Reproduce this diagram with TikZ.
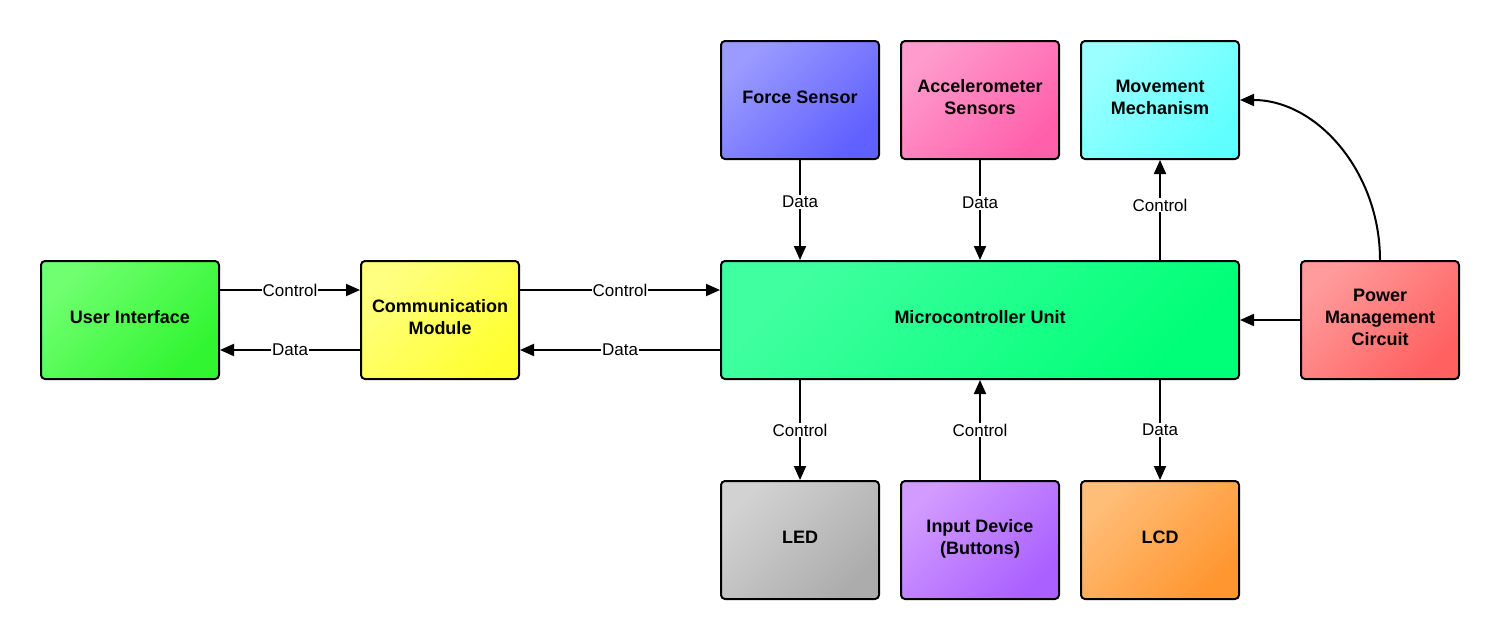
\documentclass[tikz,border=0pt]{standalone}
\usepackage{fontspec}
\setmainfont{Liberation Sans}
\usetikzlibrary{arrows.meta}
\definecolor{uiA}{RGB}{112,255,112}\definecolor{uiB}{RGB}{48,245,48}
\definecolor{cmA}{RGB}{255,255,128}\definecolor{cmB}{RGB}{255,255,48}
\definecolor{mcA}{RGB}{64,255,160}\definecolor{mcB}{RGB}{0,255,120}
\definecolor{pmA}{RGB}{255,155,155}\definecolor{pmB}{RGB}{255,96,96}
\definecolor{fsA}{RGB}{155,155,255}\definecolor{fsB}{RGB}{96,96,255}
\definecolor{acA}{RGB}{255,155,205}\definecolor{acB}{RGB}{255,96,170}
\definecolor{mmA}{RGB}{155,255,255}\definecolor{mmB}{RGB}{96,255,255}
\definecolor{ledA}{RGB}{210,210,210}\definecolor{ledB}{RGB}{172,172,172}
\definecolor{inA}{RGB}{210,155,255}\definecolor{inB}{RGB}{170,96,255}
\definecolor{lcA}{RGB}{255,190,120}\definecolor{lcB}{RGB}{255,150,48}
\tikzset{
  blk/.style={draw=black, line width=2pt, rounded corners=4pt,
    minimum width=158pt, minimum height=118pt, inner sep=0pt, text depth=6pt,
    font=\fontsize{18}{22}\selectfont\bfseries, align=center, text=black},
  grad/.style 2 args={top color=#1, bottom color=#2, shading angle=45},
  conn/.style={line width=2pt, -{Triangle[length=14pt,width=12pt]}},
  lbl/.style={fill=white, inner sep=1pt, font=\fontsize{17}{20}\selectfont}
}
\begin{document}
\begin{tikzpicture}[x=1pt,y=-1pt]
\useasboundingbox[fill=white] (0,0) rectangle (1500,640);
% nodes
\node[blk, grad={uiA}{uiB}, minimum width=178pt] (ui) at (130,320) {User Interface};
\node[blk, grad={cmA}{cmB}] (cm) at (440,320) {Communication\\Module};
\node[blk, grad={mcA}{mcB}, minimum width=518pt] (mcu) at (980,320) {Microcontroller Unit};
\node[blk, grad={pmA}{pmB}] (pm) at (1380,320) {Power\\Management\\Circuit};
\node[blk, grad={fsA}{fsB}] (fs) at (800,100) {Force Sensor};
\node[blk, grad={acA}{acB}] (ac) at (980,100) {Accelerometer\\Sensors};
\node[blk, grad={mmA}{mmB}] (mm) at (1160,100) {Movement\\Mechanism};
\node[blk, grad={ledA}{ledB}] (led) at (800,540) {LED};
\node[blk, grad={inA}{inB}] (in) at (980,540) {Input Device\\(Buttons)};
\node[blk, grad={lcA}{lcB}] (lcd) at (1160,540) {LCD};
% connectors
\draw[conn] ([yshift=30pt]ui.east) -- node[lbl] {Control} ([yshift=30pt]cm.west);
\draw[conn] ([yshift=-30pt]cm.west) -- node[lbl] {Data} ([yshift=-30pt]ui.east);
\draw[conn] ([yshift=30pt]cm.east) -- node[lbl] {Control} ([yshift=30pt]mcu.west);
\draw[conn] ([yshift=-30pt]mcu.west) -- node[lbl] {Data} ([yshift=-30pt]cm.east);
\draw[conn] (fs.south) -- node[lbl, pos=0.42] {Data} (fs.south |- mcu.north);
\draw[conn] (ac.south) -- node[lbl, pos=0.43] {Data} (mcu.north);
\draw[conn] (mcu.north -| mm.south) -- node[lbl, pos=0.55] {Control} (mm.south);
\draw[conn] (pm.west) -- (mcu.east);
\draw[conn] (pm.north) .. controls (1380,172) and (1317,100) .. (mm.east);
\draw[conn] (mcu.south -| led.north) -- node[lbl] {Control} (led.north);
\draw[conn] (in.north) -- node[lbl] {Control} (mcu.south);
\draw[conn] (mcu.south -| lcd.north) -- node[lbl] {Data} (lcd.north);
\end{tikzpicture}
\end{document}
